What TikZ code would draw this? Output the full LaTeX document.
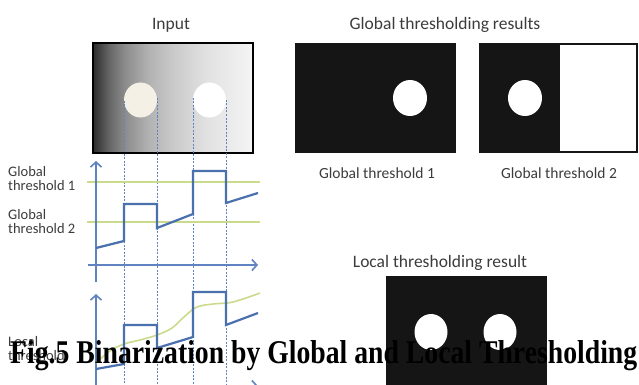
\documentclass[tikz,border=0pt]{standalone}
\usepackage{fontspec}
\usepackage{graphicx}
\setmainfont{Carlito}
\newfontfamily\capfont{Liberation Serif}
\usetikzlibrary{arrows.meta}
\definecolor{sigblue}{HTML}{4A70AE}
\definecolor{axblue}{HTML}{5E83C0}
\definecolor{thgreen}{HTML}{CADB8C}
\definecolor{txtgray}{HTML}{3C3C3C}
\definecolor{cream}{HTML}{F4F0E6}
\definecolor{boxblack}{HTML}{151515}
\pgfdeclarehorizontalshading{inputgrad}{100bp}{rgb(0bp)=(0.17,0.17,0.17); rgb(25bp)=(0.17,0.17,0.17); rgb(30bp)=(0.40,0.40,0.40); rgb(35bp)=(0.55,0.55,0.55); rgb(42.5bp)=(0.70,0.70,0.70); rgb(50bp)=(0.79,0.79,0.79); rgb(60bp)=(0.88,0.88,0.88); rgb(75bp)=(0.96,0.96,0.96); rgb(100bp)=(0.96,0.96,0.96)}
\begin{document}
\begin{tikzpicture}[x=1pt,y=-1pt,
  head/.style={text=txtgray, inner sep=0, font=\fontsize{17.5}{20}\selectfont},
  lbl/.style={text=txtgray, inner sep=0, font=\fontsize{15.5}{18}\selectfont},
  sidelbl/.style={text=txtgray, inner sep=0, align=left, anchor=north west, font=\fontsize{14.5}{14}\selectfont},
  axis/.style={axblue, line width=1.6pt, -{Straight Barb[length=5pt,width=11pt]}},
  sig/.style={sigblue, line width=2.2pt, line join=miter},
  thr/.style={thgreen, line width=1.6pt},
  guide/.style={axblue, line width=0.8pt, dash pattern=on 2pt off 1.5pt},
  blk/.style={fill=boxblack},
  ]
\useasboundingbox (0,0) rectangle (639,385);
\clip (0,0) rectangle (639,385);
\fill[white] (0,0) rectangle (639,385);

% ---- Input image
\node[head] (tin) at (171,25) {Input};
\shade[shading=inputgrad] (93,43) rectangle (253,153);
\draw[black, line width=2pt] (93,43) rectangle (253,153);
\fill[cream] (140.5,100) ellipse [x radius=16.5, y radius=17.5];
\fill[white] (209.5,100) ellipse [x radius=16.5, y radius=17.5];
\coordinate (g1) at (124,101);
\coordinate (g2) at (157,98);
\coordinate (g3) at (193,98);
\coordinate (g4) at (226,100);
\foreach \g in {g1,g2,g3,g4}{\draw[guide] (\g) -- (\g |- 0,390);}

% ---- upper graph
\draw[thr] (87,182) -- (260,182);
\draw[thr] (87,222) -- (260,222);
\draw[axis] (96,282) -- (96,161);
\draw[axis] (88,265) -- (258,265);
\draw[sig] (96,248) -- (124,241) -- (124,204) -- (157,204) -- (157,228) -- (193,214) -- (193,171) -- (226,171) -- (226,203) -- (258,193);

% ---- lower graph
\draw[axis] (96,392) -- (96,294);
\draw[axis] (88,386) -- (258,386);
\draw[thr] plot[smooth, tension=0.6] coordinates {(96,363) (110,351) (124,344) (140,340) (157,335) (172,328) (185,316) (197,307) (213,304) (233,302) (260,293)};
\draw[sig] (96,369) -- (124,364) -- (124,325) -- (157,325) -- (157,348) -- (193,337) -- (193,292) -- (226,292) -- (226,325) -- (258,313);

% ---- side labels
\node[sidelbl] (l1) at (8,166) {Global\\threshold 1};
\node[sidelbl] (l2) at (8,209) {Global\\threshold 2};
\node[sidelbl] (l3) at (8,336) {Local\\threshold};

% ---- global results
\node[head] (tgr) at (445,25) {Global thresholding results};
\fill[blk] (295,43) rectangle (456,153);
\fill[white] (410,98) ellipse [x radius=17, y radius=18];
\fill[blk] (479,43) rectangle (560,153);
\draw[boxblack, line width=2pt] (480,44) rectangle (637,152);
\fill[white] (525,98) ellipse [x radius=17, y radius=18];
\node[lbl] (tg1) at (377,173) {Global threshold 1};
\node[lbl] (tg2) at (559,173) {Global threshold 2};

% ---- local result
\node[head] (tlr) at (440,263) {Local thresholding result};
\fill[blk] (386,276) rectangle (547,395);
\fill[white] (431,332) ellipse [x radius=16.5, y radius=18];
\fill[white] (500,332) ellipse [x radius=16.5, y radius=18];

% ---- caption
\node[anchor=base west, inner sep=0] (cap) at (10,363) {\resizebox{627pt}{23pt}{\capfont\bfseries Fig.5 Binarization by Global and Local Thresholding}};
\end{tikzpicture}
\end{document}
